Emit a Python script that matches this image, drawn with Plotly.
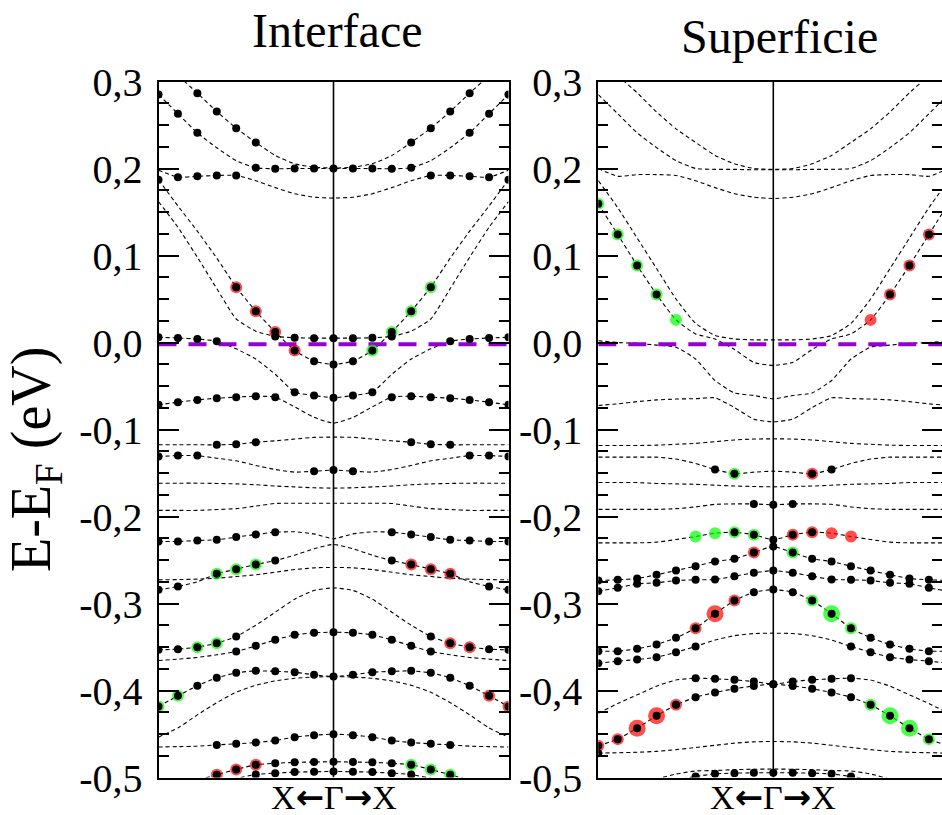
import plotly.graph_objects as go

# ---------------- k-path (fraction of |Gamma-X|), Gamma -> X ----------------
q = [0.0, 0.111, 0.222, 0.333, 0.444, 0.556, 0.667, 0.778, 0.889, 1.0]

# ---------------- Interface panel : E-EF (eV) along Gamma->X ----------------
int_A1 = [0.2005, 0.2015, 0.2054, 0.215, 0.2299, 0.2464, 0.2655, 0.2866, 0.307, 0.328]
int_A2 = [0.200, 0.200, 0.200, 0.1997, 0.2008, 0.209, 0.2238, 0.241, 0.263, 0.285]
int_B = [0.166, 0.167, 0.171, 0.178, 0.186, 0.192, 0.192, 0.191, 0.190, 0.198]
int_D = [-0.0253, -0.0215, -0.0092, 0.012, 0.036, 0.0636, 0.097, 0.128, 0.157, 0.187]
int_E = [0.005, 0.005, 0.0055, 0.007, 0.013, 0.027, 0.062, 0.098, 0.1325, 0.162]
int_F = [-0.0636, -0.0609, -0.0571, -0.0365, -0.019, -0.0073, 0.0015, 0.004, 0.0052, 0.006]
int_G = [-0.0927, -0.086, -0.074, -0.0628, -0.0617, -0.0628, -0.064, -0.066, -0.0686, -0.0716]
int_H = [-0.1088, -0.109, -0.111, -0.113, -0.1146, -0.117, -0.1176, -0.1176, -0.1176, -0.1176]
int_I = [-0.1465, -0.148, -0.149, -0.146, -0.1414, -0.136, -0.133, -0.130, -0.130, -0.131]
int_J = [-0.1674, -0.167, -0.166, -0.165, -0.1635, -0.1625, -0.162, -0.1617, -0.1617, -0.1617]
int_K = [-0.1847, -0.1847, -0.1847, -0.185, -0.188, -0.191, -0.192, -0.193, -0.193, -0.193]
int_L = [-0.2256, -0.220, -0.2176, -0.218, -0.2207, -0.2237, -0.2268, -0.2276, -0.2287, -0.2287]
int_M = [-0.2321, -0.237, -0.2445, -0.2506, -0.2552, -0.2605, -0.2659, -0.275, -0.2805, -0.2843]
int_N = [-0.2585, -0.259, -0.261, -0.264, -0.267, -0.269, -0.271, -0.272, -0.2725, -0.2728]
int_Q = [-0.282, -0.285, -0.295, -0.310, -0.325, -0.338, -0.3456, -0.3502, -0.3525, -0.3533]
int_R = [-0.333, -0.3337, -0.336, -0.3418, -0.3487, -0.3552, -0.359, -0.362, -0.364, -0.3655]
int_S = [-0.384, -0.382, -0.379, -0.378, -0.3774, -0.3797, -0.3854, -0.3946, -0.4061, -0.4184]
int_T = [-0.384, -0.3845, -0.386, -0.389, -0.394, -0.402, -0.414, -0.428, -0.443, -0.4536]
int_U = [-0.4502, -0.4513, -0.4536, -0.4575, -0.4598, -0.4613, -0.4625, -0.464, -0.4645, -0.465]
int_V = [-0.4819, -0.4822, -0.4826, -0.4837, -0.4853, -0.4907, -0.4969, -0.503, -0.510, -0.515]
int_W = [-0.493, -0.4934, -0.4938, -0.495, -0.4966, -0.501, -0.506, -0.510, -0.515, -0.520]

# projected-weight dots (k indices) and spin-coloured dots
int_A1_dots = [4, 5, 6, 7]
int_A2_dots = [0, 1, 2, 3, 4, 7, 8, 9]
int_B_dots = [5, 6, 7, 8]
int_D_dots = [0, 1, 2, 3, 4, 5, 9]
int_E_dots = [0, 1, 2, 3]
int_F_dots = [0, 1, 2, 6, 7, 8, 9]
int_G_dots = [3, 4, 5, 6, 7, 8, 9]
int_H_dots = [4, 5, 6]
int_I_dots = [0, 1, 7, 8, 9]
int_L_dots = [3, 4, 5, 6, 7, 8, 9]
int_M_dots = [3, 4, 5, 6, 8, 9]
int_Q_dots = [5, 6, 7, 8, 9]
int_R_dots = [0, 1, 2, 3, 4, 5]
int_S_dots = [0, 1, 2, 3, 4, 5, 6, 7, 8, 9]
int_U_dots = [0, 1, 2, 3, 4, 5, 6]
int_V_dots = [0, 1, 2, 3, 4, 5, 6]
int_W_dots = [0, 1, 2, 3, 4]
int_D_spin = [2, 3, 4, 5]
int_M_spin = [4, 5, 6]
int_Q_spin = [6, 7]
int_S_spin = [8, 9]
int_V_spin = [4, 5, 6]

# ---------------- Superficie panel ----------------
sur_A1 = [0.199, 0.200, 0.2054, 0.215, 0.230, 0.2456, 0.265, 0.287, 0.307, 0.330]
sur_A2 = [0.1985, 0.1985, 0.199, 0.199, 0.200, 0.209, 0.224, 0.241, 0.263, 0.285]
sur_B = [0.1655, 0.167, 0.171, 0.178, 0.186, 0.192, 0.193, 0.193, 0.191, 0.200]
sur_E = [0.003, 0.003, 0.004, 0.008, 0.022, 0.050, 0.085, 0.120, 0.155, 0.186]
sur_D = [-0.0264, -0.0229, -0.008, 0.004, 0.0099, 0.026, 0.0552, 0.0885, 0.1241, 0.1594]
sur_F = [-0.0648, -0.0609, -0.058, -0.0437, -0.019, -0.0054, -0.003, -0.001, 0.0, 0.002]
sur_G = [-0.0912, -0.0881, -0.0747, -0.0636, -0.0645, -0.065, -0.066, -0.068, -0.0705, -0.0724]
sur_H = [-0.1107, -0.111, -0.112, -0.114, -0.116, -0.117, -0.118, -0.1184, -0.1184, -0.1184]
sur_I = [-0.1479, -0.149, -0.1509, -0.146, -0.139, -0.134, -0.1318, -0.1318, -0.1318, -0.1318]
sur_J = [-0.1659, -0.1655, -0.165, -0.164, -0.163, -0.1625, -0.162, -0.161, -0.161, -0.1609]
sur_K = [-0.1866, -0.1855, -0.1855, -0.186, -0.189, -0.191, -0.1918, -0.1918, -0.1918, -0.1918]
sur_L = [-0.2268, -0.221, -0.218, -0.2192, -0.223, -0.2265, -0.2295, -0.2303, -0.2303, -0.2303]
sur_M = [-0.2345, -0.2414, -0.2487, -0.2517, -0.2571, -0.2621, -0.267, -0.2713, -0.2728, -0.2736]
sur_N = [-0.2621, -0.2647, -0.2686, -0.2724, -0.2728, -0.2736, -0.2762, -0.2774, -0.282, -0.2858]
sur_Q = [-0.284, -0.287, -0.2966, -0.3118, -0.3284, -0.3395, -0.3472, -0.3521, -0.3548, -0.3548]
sur_R = [-0.3341, -0.3345, -0.337, -0.342, -0.3494, -0.356, -0.3617, -0.3644, -0.3663, -0.3686]
sur_S = [-0.3927, -0.3897, -0.3877, -0.3866, -0.3858, -0.388, -0.395, -0.405, -0.415, -0.4261]
sur_T = [-0.3927, -0.3947, -0.398, -0.4023, -0.4077, -0.4165, -0.4291, -0.4433, -0.4559, -0.4636]
sur_U = [-0.4586, -0.459, -0.4605, -0.463, -0.4655, -0.468, -0.470, -0.471, -0.4715, -0.472]
sur_W = [-0.4903, -0.4905, -0.491, -0.492, -0.4925, -0.496, -0.502, -0.510, -0.520, -0.530]
sur_V = [-0.4946, -0.4946, -0.495, -0.4958, -0.4989, -0.503, -0.510, -0.520, -0.530, -0.540]

sur_D_dots = [6, 7, 8, 9]
sur_I_dots = [2, 3]
sur_K_dots = [0, 1]
sur_L_dots = [0, 1, 2]
sur_M_dots = [0, 1, 2, 3, 4, 5, 6, 7, 8, 9]
sur_N_dots = [0, 1, 2, 3, 4, 5, 6, 7, 8, 9]
sur_Q_dots = [0, 1, 2, 3, 4, 5, 6, 7, 8, 9]
sur_R_dots = [4, 5, 6, 7, 8, 9]
sur_S_dots = [0, 1, 2, 3, 4]
sur_T_dots = [0, 1, 2, 3, 4, 5, 6, 7, 8, 9]
sur_U_dots = [9]
sur_V_dots = [0, 1, 2, 3, 4]
sur_D_spin = [5, 6, 7, 8, 9]
sur_I_spin = [2]
sur_L_spin = [1, 2, 3, 4]
sur_M_spin = [1]
sur_Q_spin = [2, 3, 4]
sur_T_spin = [5, 6, 7, 8, 9]
sur_Q_big = [3]
sur_T_big = [6, 7]

fermi_level = -0.002
yticks = [0.3, 0.2, 0.1, 0.0, -0.1, -0.2, -0.3, -0.4, -0.5]
yticktext = ["0,3", "0,2", "0,1", "0,0", "-0,1", "-0,2", "-0,3", "-0,4", "-0,5"]

RED = "#ff0000"
GREEN = "#00ff00"
# ---------------------------------------------------------------------------

# (energies, black dots, spin dots, colour toward left X, colour toward right X, big, no-core)
interface_bands = [
    (int_A1, int_A1_dots, [], None, None, [], []),
    (int_A2, int_A2_dots, [], None, None, [], []),
    (int_B, int_B_dots, [], None, None, [], []),
    (int_D, int_D_dots, int_D_spin, RED, GREEN, [], []),
    (int_E, int_E_dots, [], None, None, [], []),
    (int_F, int_F_dots, [], None, None, [], []),
    (int_G, int_G_dots, [], None, None, [], []),
    (int_H, int_H_dots, [], None, None, [], []),
    (int_I, int_I_dots, [], None, None, [], []),
    (int_J, [], [], None, None, [], []),
    (int_K, [], [], None, None, [], []),
    (int_L, int_L_dots, [], None, None, [], []),
    (int_M, int_M_dots, int_M_spin, GREEN, RED, [], []),
    (int_N, [], [], None, None, [], []),
    (int_Q, int_Q_dots, int_Q_spin, GREEN, RED, [], []),
    (int_R, int_R_dots, [], None, None, [], []),
    (int_S, int_S_dots, int_S_spin, GREEN, RED, [], []),
    (int_T, [], [], None, None, [], []),
    (int_U, int_U_dots, [], None, None, [], []),
    (int_V, int_V_dots, int_V_spin, RED, GREEN, [], []),
    (int_W, int_W_dots, [], None, None, [], []),
]
surface_bands = [
    (sur_A1, [], [], None, None, [], []),
    (sur_A2, [], [], None, None, [], []),
    (sur_B, [], [], None, None, [], []),
    (sur_E, [], [], None, None, [], []),
    (sur_D, sur_D_dots, sur_D_spin, GREEN, RED, [], [5]),
    (sur_F, [], [], None, None, [], []),
    (sur_G, [], [], None, None, [], []),
    (sur_H, [], [], None, None, [], []),
    (sur_I, sur_I_dots, sur_I_spin, GREEN, RED, [], []),
    (sur_J, [], [], None, None, [], []),
    (sur_K, sur_K_dots, [], None, None, [], []),
    (sur_L, sur_L_dots, sur_L_spin, GREEN, RED, [], [3, 4]),
    (sur_M, sur_M_dots, sur_M_spin, RED, GREEN, [], []),
    (sur_N, sur_N_dots, [], None, None, [], []),
    (sur_Q, sur_Q_dots, sur_Q_spin, RED, GREEN, sur_Q_big, []),
    (sur_R, sur_R_dots, [], None, None, [], []),
    (sur_S, sur_S_dots, [], None, None, [], []),
    (sur_T, sur_T_dots, sur_T_spin, RED, GREEN, sur_T_big, []),
    (sur_U, sur_U_dots, [], None, None, [], []),
    (sur_W, [], [], None, None, [], []),
    (sur_V, sur_V_dots, [], None, None, [], []),
]

fig = go.Figure()


def add_panel(bands, xa, ya):
    col_x, col_y, col_c, col_s, blk_x, blk_y = [], [], [], [], [], []
    for e, dots, spin, cl, cr, big, nocore in bands:
        xs = [-v for v in reversed(q)] + q[1:]
        ys = list(reversed(e)) + e[1:]
        fig.add_trace(go.Scatter(x=xs, y=ys, xaxis=xa, yaxis=ya, mode="lines",
                                 line=dict(color="black", width=1.1, dash="4px,3px",
                                           shape="spline", smoothing=0.5),
                                 hoverinfo="skip", showlegend=False))
        for k in spin:
            size = 17 if k in big else 12
            for sgn, c in ((-1, cl), (1, cr)):
                col_x.append(sgn * q[k]); col_y.append(e[k]); col_c.append(c); col_s.append(size)
        core = set(dots) | (set(spin) - set(nocore))
        for k in sorted(core):
            blk_x.append(-q[k]); blk_y.append(e[k])
            if k > 0:
                blk_x.append(q[k]); blk_y.append(e[k])
    # Gamma line
    fig.add_trace(go.Scatter(x=[0, 0], y=[-0.5, 0.3], xaxis=xa, yaxis=ya, mode="lines",
                             line=dict(color="black", width=1.6), hoverinfo="skip", showlegend=False))
    # Fermi level
    fig.add_trace(go.Scatter(x=[-1, 1], y=[fermi_level, fermi_level], xaxis=xa, yaxis=ya, mode="lines",
                             line=dict(color="#9400d3", width=4, dash="18px,12px"),
                             hoverinfo="skip", showlegend=False))
    fig.add_trace(go.Scatter(x=col_x, y=col_y, xaxis=xa, yaxis=ya, mode="markers",
                             marker=dict(color=col_c, size=col_s, line=dict(width=0)),
                             hoverinfo="skip", showlegend=False))
    fig.add_trace(go.Scatter(x=blk_x, y=blk_y, xaxis=xa, yaxis=ya, mode="markers",
                             marker=dict(color="black", size=8, line=dict(width=0)),
                             hoverinfo="skip", showlegend=False))


add_panel(interface_bands, "x", "y")
add_panel(surface_bands, "x2", "y2")

W, H = 942, 815
ydom = [1 - 777.5 / H, 1 - 81.5 / H]
serif = "Liberation Serif"


def yax(anchor):
    return dict(domain=ydom, range=[-0.5, 0.3], anchor=anchor, tickvals=yticks, ticktext=yticktext,
                ticks="inside", ticklen=20, tickwidth=2, tickcolor="black",
                showline=True, linewidth=2, linecolor="black", mirror="ticks",
                showgrid=False, zeroline=False, ticklabelstandoff=6, automargin=False,
                tickfont=dict(family=serif, size=40, color="black"),
                minor=dict(ticks="inside", ticklen=10, tickwidth=2, tickcolor="black",
                           dtick=0.025, tick0=0, showgrid=False))


def xax(dom, rng, anchor):
    return dict(domain=dom, range=rng, anchor=anchor, showline=True, linewidth=2, linecolor="black",
                mirror=True, ticks="", showticklabels=False, showgrid=False, zeroline=False,
                automargin=False)


fig.update_layout(
    width=W, height=H, margin=dict(l=0, r=0, t=0, b=0, pad=0, autoexpand=False),
    paper_bgcolor="white", plot_bgcolor="white", showlegend=False,
    xaxis=xax([158.5 / W, 508.5 / W], [-1, 1], "y"),
    yaxis=yax("x"),
    xaxis2=xax([598.3 / W, 1.0], [-1, (942 - 773.3) / 175.0], "y2"),
    yaxis2=yax("x2"),
)

arrow_l = '<span style="font-family:DejaVu Sans;font-weight:bold">←</span>'
arrow_r = '<span style="font-family:DejaVu Sans;font-weight:bold">→</span>'
bottom_label = "X" + arrow_l + "Γ" + arrow_r + "X"

ann = [
    dict(text="Interface", x=337 / W, y=1 - 30 / H, size=48),
    dict(text="Superficie", x=779 / W, y=1 - 37 / H, size=48),
    dict(text=bottom_label, x=334 / W, y=1 - 797 / H, size=34),
    dict(text=bottom_label, x=773 / W, y=1 - 797 / H, size=34),
]
for a in ann:
    fig.add_annotation(text=a["text"], x=a["x"], y=a["y"], xref="paper", yref="paper",
                       xanchor="center", yanchor="middle", showarrow=False,
                       font=dict(family=serif, size=a["size"], color="black"))
fig.add_annotation(text="E-E<sub>F</sub> (eV)", x=35 / W, y=1 - 460 / H, xref="paper", yref="paper",
                   xanchor="center", yanchor="middle", showarrow=False, textangle=-90,
                   font=dict(family=serif, size=56, color="black"))

fig.write_html("out.html")
